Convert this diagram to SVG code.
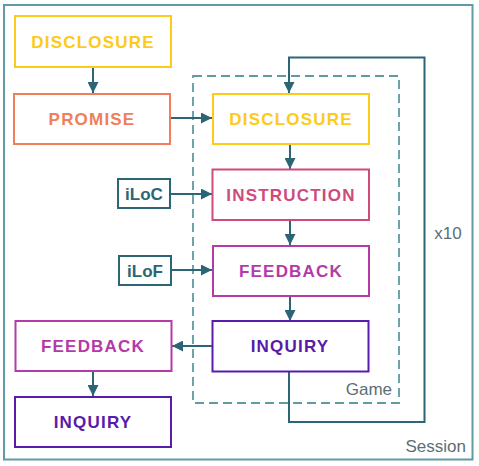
<svg xmlns="http://www.w3.org/2000/svg" width="479" height="466" viewBox="0 0 479 466">
<defs>
<marker id="ah" markerWidth="11" markerHeight="11" viewBox="0 0 11 11" refX="11" refY="5.5" orient="auto" markerUnits="userSpaceOnUse">
<path d="M0,0 L11,5.5 L0,11 Z" fill="#2c6676"/>
</marker>
</defs>
<style>
.box{fill:#fff;stroke-width:2}
.lbl{font-family:"Liberation Sans",Arial,sans-serif;font-weight:bold;font-size:17px;letter-spacing:1.2px;text-anchor:middle}
.small{font-family:"Liberation Sans",Arial,sans-serif;font-weight:bold;font-size:17px;text-anchor:middle;fill:#2c6676}
.cap{font-family:"Liberation Sans",Arial,sans-serif;font-size:17px;fill:#5b6e76}
.conn{fill:none;stroke:#2c6676;stroke-width:2}
.yel{stroke:#fdca1a}.yelt{fill:#fdca1a}
.org{stroke:#f07e5b}.orgt{fill:#f07e5b}
.pnk{stroke:#cf4a7d}.pnkt{fill:#cf4a7d}
.mag{stroke:#b43aa8}.magt{fill:#b43aa8}
.pur{stroke:#5a1ba8}.purt{fill:#5a1ba8}
.tl{stroke:#2c6676}
</style>
<g id="session">
<rect x="4" y="5" width="468.5" height="454.5" fill="none" stroke="#5e9ba4" stroke-width="2"/>
<text class="cap" x="466" y="451.5" text-anchor="end" font-size="17.5">Session</text>
</g>
<g id="game">
<rect x="193" y="76" width="206" height="327" fill="none" stroke="#5e9ba4" stroke-width="1.8" stroke-dasharray="9,5"/>
<text class="cap" x="392" y="395" text-anchor="end" font-size="17.5">Game</text>
</g>
<g id="connectors">
<path class="conn" d="M93,67 V93" marker-end="url(#ah)"/>
<path class="conn" d="M171,118 H212" marker-end="url(#ah)"/>
<path class="conn" d="M170,194 H212" marker-end="url(#ah)"/>
<path class="conn" d="M171,270 H212" marker-end="url(#ah)"/>
<path class="conn" d="M290,144 V169" marker-end="url(#ah)"/>
<path class="conn" d="M290,220 V245" marker-end="url(#ah)"/>
<path class="conn" d="M290,296 V321" marker-end="url(#ah)"/>
<path class="conn" d="M212,346 H172" marker-end="url(#ah)"/>
<path class="conn" d="M93,371 V396" marker-end="url(#ah)"/>
<path class="conn" d="M289,372 V422 H424.5 V57.5 H289 V93" marker-end="url(#ah)"/>
<text class="cap" x="448" y="239" text-anchor="middle">x10</text>
</g>
<g id="disclosure1">
<rect class="box yel" x="15" y="16" width="156" height="51"/>
<text class="lbl yelt" x="93" y="48">DISCLOSURE</text>
</g>
<g id="promise">
<rect class="box org" x="14" y="94" width="156" height="50"/>
<text class="lbl orgt" x="92" y="125">PROMISE</text>
</g>
<g id="disclosure2">
<rect class="box yel" x="213" y="94" width="156" height="50"/>
<text class="lbl yelt" x="291" y="125">DISCLOSURE</text>
</g>
<g id="iloc">
<rect class="box tl" x="118" y="179" width="52" height="29"/>
<text class="small" x="144" y="200">iLoC</text>
</g>
<g id="instruction">
<rect class="box pnk" x="212.5" y="169.5" width="156.5" height="50.5"/>
<text class="lbl pnkt" x="291" y="201">INSTRUCTION</text>
</g>
<g id="ilof">
<rect class="box tl" x="119" y="256" width="52" height="29"/>
<text class="small" x="145" y="277">iLoF</text>
</g>
<g id="feedback2">
<rect class="box mag" x="213" y="246" width="156" height="50"/>
<text class="lbl magt" x="291" y="277">FEEDBACK</text>
</g>
<g id="inquiry2">
<rect class="box pur" x="212.5" y="321" width="156" height="50.5"/>
<text class="lbl purt" x="290" y="352">INQUIRY</text>
</g>
<g id="feedback1">
<rect class="box mag" x="15.5" y="321" width="156" height="50"/>
<text class="lbl magt" x="93" y="352">FEEDBACK</text>
</g>
<g id="inquiry1">
<rect class="box pur" x="15" y="397" width="156" height="50"/>
<text class="lbl purt" x="93" y="428">INQUIRY</text>
</g>
</svg>
